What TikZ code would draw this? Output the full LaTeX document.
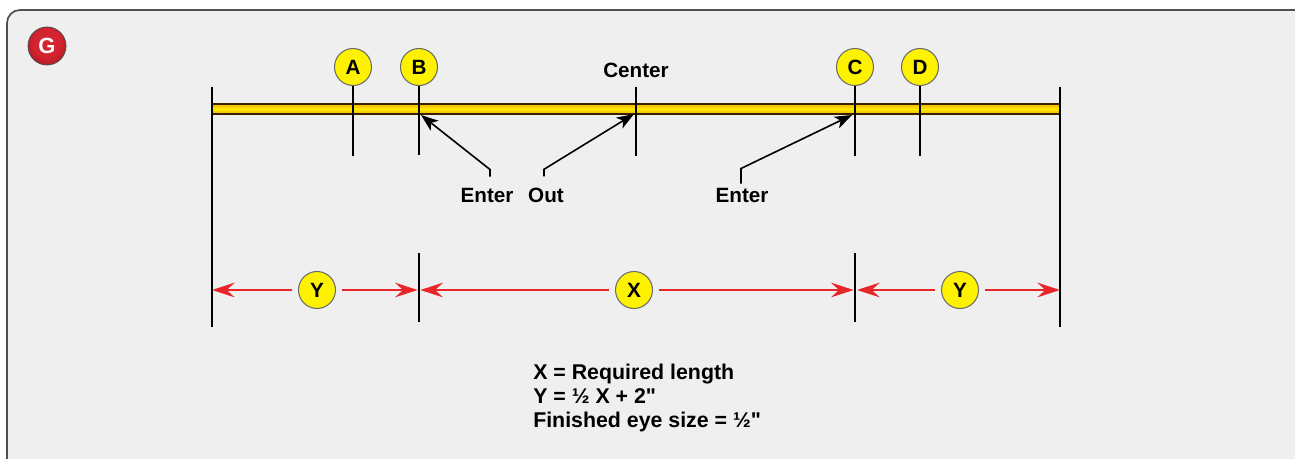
\documentclass[tikz,border=0pt]{standalone}
\usepackage{fontspec}
\newfontfamily\labelfont{Liberation Sans}[Mapping=]
\usetikzlibrary{arrows.meta}
\definecolor{framebg}{HTML}{EFEFEF}
\definecolor{framedraw}{HTML}{505050}
\definecolor{ropedark}{HTML}{3A2200}
\definecolor{ropeedge}{HTML}{F2B400}
\definecolor{ropemid}{HTML}{FFEA00}
\definecolor{dimred}{HTML}{E8262A}
\definecolor{ballin}{HTML}{FFF200}
\definecolor{ballmid}{HTML}{F5E600}
\definecolor{ballout}{HTML}{A89E48}
\definecolor{redin}{HTML}{D42430}
\definecolor{redout}{HTML}{780810}
\pgfdeclareradialshading{yelball}{\pgfpoint{0bp}{0bp}}{color(0bp)=(ballin); color(32bp)=(ballin); color(43bp)=(ballmid); color(50bp)=(ballout)}
\pgfdeclareradialshading{redball}{\pgfpoint{0bp}{8bp}}{color(0bp)=(redin); color(18bp)=(redin); color(50bp)=(redout)}
\begin{document}
\begin{tikzpicture}[x=0.75pt,y=-0.75pt,
  lbl/.style={font=\labelfont\bfseries\fontsize{15.5}{18}\selectfont, inner sep=0pt},
  formula/.style={font=\labelfont\bfseries\fontsize{16}{18}\selectfont, inner sep=0pt},
  ball/.style={circle, minimum size=27.75pt, inner sep=0pt, draw=gray!85!black, line width=0.8pt, shading=yelball, font=\labelfont\bfseries\fontsize{15.5}{18}\selectfont},
  tick/.style={line width=1.6pt, black},
  blkarrow/.style={line width=1.2pt, black, -{Stealth[length=13pt,width=9.5pt,inset=3.5pt]}},
  dim/.style={line width=1.7pt, dimred, -{Stealth[length=17pt,width=11pt,inset=6pt]}, shorten <=4.5pt},
  rope/.style={draw=ropedark, line width=1.1pt, top color=ropeedge, bottom color=ropeedge, middle color=ropemid}
]
\useasboundingbox (0,0) rectangle (1295,459);
\fill[white] (0,0) rectangle (1295,459);
\begin{scope}
\clip (0,0) rectangle (1295,459);
\draw[framedraw, line width=1.3pt, fill=framebg, rounded corners=9.75pt] (7,10) rectangle (1330,490);
\end{scope}

% G badge
\node[circle, minimum size=28.5pt, inner sep=0pt, draw=black!70, line width=0.6pt, shading=redball, text=white, font=\labelfont\bfseries\fontsize{16.5}{18}\selectfont] (G) at (47,46) {G};

% rope
\draw[rope] (212,104) rectangle (1060,114);

% top markers
\node[ball] (A) at (353,67) {A};
\node[ball] (B) at (419,67) {B};
\node[ball] (C) at (855,67) {C};
\node[ball] (D) at (920,67) {D};
\node[lbl, anchor=base] (cen) at (636,78) {Center};

\coordinate (a2) at (353,156);
\coordinate (b2) at (419,155);
\coordinate (c2) at (855,156);
\coordinate (d2) at (920,156);
\coordinate (m1) at (636,87);
\coordinate (m2) at (636,156);

% end lines and dimension ticks
\coordinate (L1) at (212,87);
\coordinate (L2) at (212,327);
\coordinate (R1) at (1060,87);
\coordinate (R2) at (1060,327);
\coordinate (bd1) at (419,253);
\coordinate (bd2) at (419,322);
\coordinate (cd1) at (855,253);
\coordinate (cd2) at (855,322);

% dimension labels
\node[ball] (Y1) at (317,290) {Y};
\node[ball] (X) at (634,290) {X};
\node[ball] (Y2) at (960,290) {Y};

\coordinate (p1) at (212,290);
\coordinate (p2) at (419,290);
\coordinate (p3) at (855,290);
\coordinate (p4) at (1060,290);

\draw[dim] (Y1) -- (p1);
\draw[dim, shorten >=1pt] (Y1) -- (p2);
\draw[dim, shorten >=1pt] (X) -- (p2);
\draw[dim, shorten >=1pt] (X) -- (p3);
\draw[dim, shorten >=1.5pt] (Y2) -- (p3);
\draw[dim] (Y2) -- (p4);

% vertical lines
\draw[tick] (A) -- (a2);
\draw[tick] (B) -- (b2);
\draw[tick] (C) -- (c2);
\draw[tick] (D) -- (d2);
\draw[tick] (m1) -- (m2);
\draw[tick] (L1) -- (L2);
\draw[tick] (R1) -- (R2);
\draw[tick] (bd1) -- (bd2);
\draw[tick] (cd1) -- (cd2);

% pointer labels
\node[lbl, anchor=base] (enter1) at (487,203) {Enter};
\node[lbl, anchor=base] (out) at (546,203) {Out};
\node[lbl, anchor=base] (enter2) at (742,203) {Enter};
\coordinate (bhit) at (421,115);
\coordinate (mhit) at (634,114);
\coordinate (chit) at (852,115);
\draw[blkarrow] ([shift={(3,-12)}]enter1.north) -- ++(0,-7) -- (bhit);
\draw[blkarrow] ([shift={(-2,-12)}]out.north) -- ++(0,-7) -- (mhit);
\draw[blkarrow] ([shift={(-1,-5)}]enter2.north) -- ++(0,-15) -- (chit);

% formulas
\node[formula, anchor=base west] (f1) at (533,379) {X = Required length};
\node[formula, anchor=base west] (f2) at (533,403) {Y = ½ X + 2"};
\node[formula, anchor=base west] (f3) at (533,427) {Finished eye size = ½"};
\end{tikzpicture}
\end{document}
